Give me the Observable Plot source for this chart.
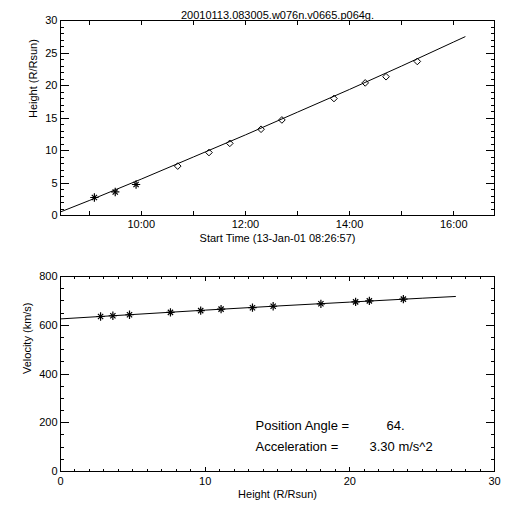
<!DOCTYPE html>
<html>
<head>
<meta charset="utf-8">
<script src="https://cdn.jsdelivr.net/npm/d3@7"></script>
<script src="https://cdn.jsdelivr.net/npm/@observablehq/plot@0.6"></script>
<style>
  html, body { margin: 0; padding: 0; background: white; }
  #chart svg { display: block; }
</style>
</head>
<body>
<div id="chart"></div>
<script>
// ---------- data ----------
const title = "20010113.083005.w076n.v0665.p064g.";
const day = "2001-01-13";
const startTime = "08:26:57";
const endTime = "16:46:57";
const xTitleTop = "Start Time (13-Jan-01 08:26:57)";
const yTitleTop = "Height (R/Rsun)";
const xTitleBottom = "Height (R/Rsun)";
const yTitleBottom = "Velocity (km/s)";

// C2 (asterisks) and C3 (diamonds) height-time measurements
const c2Times = ["09:06:00", "09:30:00", "09:54:00"];
const c2Heights = [2.77, 3.62, 4.77];
const c3Times = ["10:42:00", "11:18:00", "11:42:00", "12:18:00", "12:42:00", "13:42:00", "14:18:00", "14:42:00", "15:18:00"];
const c3Heights = [7.6, 9.69, 11.1, 13.27, 14.7, 18.0, 20.4, 21.35, 23.7];

// fitted height-time curve
const fitTimes = ["08:26:57", "09:00:00", "10:00:00", "11:00:00", "12:00:00", "13:00:00", "14:00:00", "15:00:00", "16:00:00", "16:13:00"];
const fitHeights = [0.55, 2.3, 5.6, 9.0, 12.4, 15.9, 19.4, 23.0, 26.7, 27.5];

// velocity at each measured height
const velHeights = [2.77, 3.62, 4.77, 7.6, 9.69, 11.1, 13.27, 14.7, 18.0, 20.4, 21.35, 23.7];
const velocities = [636, 639, 643, 653, 660, 666, 672, 678, 688, 696, 700, 707];
// fitted velocity-height curve
const fitVelHeights = [0, 5, 10, 15, 20, 25, 27.3];
const fitVelocities = [626, 644, 662, 679, 695, 711, 718];

// tick values
const hourTicks = ["09:00:00", "10:00:00", "11:00:00", "12:00:00", "13:00:00", "14:00:00", "15:00:00", "16:00:00"];
const hourLabels = ["10:00:00", "12:00:00", "14:00:00", "16:00:00"];
const heightTicksMajor = [0, 5, 10, 15, 20, 25, 30];
const heightTicksMinor = [1, 2, 3, 4, 6, 7, 8, 9, 11, 12, 13, 14, 16, 17, 18, 19, 21, 22, 23, 24, 26, 27, 28, 29];
const velTicksMajor = [0, 200, 400, 600, 800];
const velTicksMinor = [50, 100, 150, 250, 300, 350, 450, 500, 550, 650, 700, 750];
const radiusTicksMajor = [0, 10, 20, 30];
const radiusTicksMinor = [1, 2, 3, 4, 5, 6, 7, 8, 9, 11, 12, 13, 14, 15, 16, 17, 18, 19, 21, 22, 23, 24, 25, 26, 27, 28, 29];

// annotation
const annotLabels = ["Position Angle =", "Acceleration ="];
const annotValues = ["64.", "3.30 m/s^2"];

// ---------- helpers ----------
const T = s => new Date(`${day}T${s}Z`);
const fmt = d3.utcFormat("%H:%M");
const font = "Liberation Sans, Arial, sans-serif";

const c2 = c2Times.map((t, i) => ({t: T(t), h: c2Heights[i]}));
const c3 = c3Times.map((t, i) => ({t: T(t), h: c3Heights[i]}));
const fitHT = fitTimes.map((t, i) => ({t: T(t), h: fitHeights[i]}));
const vel = velHeights.map((h, i) => ({h, v: velocities[i]}));
const fitV = fitVelHeights.map((h, i) => ({h, v: fitVelocities[i]}));

const blank = () => "";
function boxTicksX(ticks, size) {
  return [
    Plot.axisX({ticks, anchor: "bottom", tickSize: size, dy: -size, tickFormat: blank, label: null, stroke: "black", shapeRendering: "crispEdges"}),
    Plot.axisX({ticks, anchor: "top", tickSize: size, dy: size, tickFormat: blank, label: null, stroke: "black", shapeRendering: "crispEdges"})
  ];
}
function boxTicksY(ticks, size) {
  return [
    Plot.axisY({ticks, anchor: "left", tickSize: size, dx: size, tickFormat: blank, label: null, stroke: "black", shapeRendering: "crispEdges"}),
    Plot.axisY({ticks, anchor: "right", tickSize: size, dx: -size, tickFormat: blank, label: null, stroke: "black", shapeRendering: "crispEdges"})
  ];
}
const common = {
  width: 512, height: 256,
  marginTop: 20, marginBottom: 41, marginLeft: 60, marginRight: 18,
  style: {fontFamily: font, fontSize: "11px", background: "white", color: "black", overflow: "visible"}
};

// ---------- top: height vs time ----------
const topPlot = Plot.plot({
  ...common,
  x: {type: "utc", domain: [T(startTime), T(endTime)]},
  y: {domain: [0, 30]},
  marks: [
    ...boxTicksX(hourTicks.map(T), 4),
    ...boxTicksY(heightTicksMajor, 9),
    ...boxTicksY(heightTicksMinor, 4),
    Plot.frame({stroke: "black", shapeRendering: "crispEdges"}),
    Plot.line(fitHT, {x: "t", y: "h", stroke: "black", strokeWidth: 1}),
    Plot.dot(c3, {x: "t", y: "h", symbol: "diamond2", r: 3, stroke: "black", fill: "none", strokeWidth: 1}),
    Plot.dot(c2, {x: "t", y: "h", symbol: "plus", r: 2.8, stroke: "black", strokeWidth: 1.2}),
    Plot.dot(c2, {x: "t", y: "h", symbol: "times", r: 2.5, stroke: "black", strokeWidth: 1.2}),
    Plot.text(hourLabels.map(T), {x: d => d, text: d => fmt(d), frameAnchor: "bottom", dy: 12, fontSize: 11, fill: "black"}),
    Plot.text(heightTicksMajor, {y: d => d, text: d => String(d), frameAnchor: "left", dx: -3, textAnchor: "end", fontSize: 11, fill: "black"}),
    Plot.text([xTitleTop], {frameAnchor: "bottom", dy: 26, fontSize: 11, letterSpacing: "0.6px", fill: "black"}),
    Plot.text([yTitleTop], {frameAnchor: "left", dx: -27, rotate: -90, fontSize: 11, letterSpacing: "0.6px", fill: "black"}),
    Plot.text([title], {frameAnchor: "top", dy: -9, fontSize: 11, letterSpacing: "1.4px", fill: "black"})
  ]
});

// ---------- bottom: velocity vs height ----------
const bottomPlot = Plot.plot({
  ...common,
  x: {domain: [0, 30]},
  y: {domain: [0, 800]},
  marks: [
    ...boxTicksX(radiusTicksMajor, 4),
    ...boxTicksX(radiusTicksMinor, 2),
    ...boxTicksY(velTicksMajor, 9),
    ...boxTicksY(velTicksMinor, 4),
    Plot.frame({stroke: "black", shapeRendering: "crispEdges"}),
    Plot.line(fitV, {x: "h", y: "v", stroke: "black", strokeWidth: 1}),
    Plot.dot(vel, {x: "h", y: "v", symbol: "plus", r: 2.8, stroke: "black", strokeWidth: 1.2}),
    Plot.dot(vel, {x: "h", y: "v", symbol: "times", r: 2.5, stroke: "black", strokeWidth: 1.2}),
    Plot.text(radiusTicksMajor, {x: d => d, text: d => String(d), frameAnchor: "bottom", dy: 13, fontSize: 11, fill: "black"}),
    Plot.text(velTicksMajor, {y: d => d, text: d => String(d), frameAnchor: "left", dx: -3, textAnchor: "end", fontSize: 11, fill: "black"}),
    Plot.text([xTitleBottom], {frameAnchor: "bottom", dy: 26, fontSize: 11, letterSpacing: "0.6px", fill: "black"}),
    Plot.text([yTitleBottom], {frameAnchor: "left", dx: -33, rotate: -90, fontSize: 11, letterSpacing: "0.6px", fill: "black"}),
    Plot.text([annotLabels[0]], {frameAnchor: "bottom-left", dx: 195, dy: -41.5, textAnchor: "start", lineAnchor: "bottom", fontSize: 13, letterSpacing: "0.2px", fill: "black"}),
    Plot.text([annotLabels[1]], {frameAnchor: "bottom-left", dx: 195, dy: -20.5, textAnchor: "start", lineAnchor: "bottom", fontSize: 13, letterSpacing: "0.2px", fill: "black"}),
    Plot.text([annotValues[0]], {frameAnchor: "bottom-left", dx: 326, dy: -41.5, textAnchor: "start", lineAnchor: "bottom", fontSize: 13, letterSpacing: "0.6px", fill: "black"}),
    Plot.text([annotValues[1]], {frameAnchor: "bottom-left", dx: 309, dy: -20.5, textAnchor: "start", lineAnchor: "bottom", fontSize: 13, letterSpacing: "0.8px", fill: "black"})
  ]
});

const chart = document.getElementById("chart");
chart.append(topPlot, bottomPlot);
</script>
</body>
</html>
